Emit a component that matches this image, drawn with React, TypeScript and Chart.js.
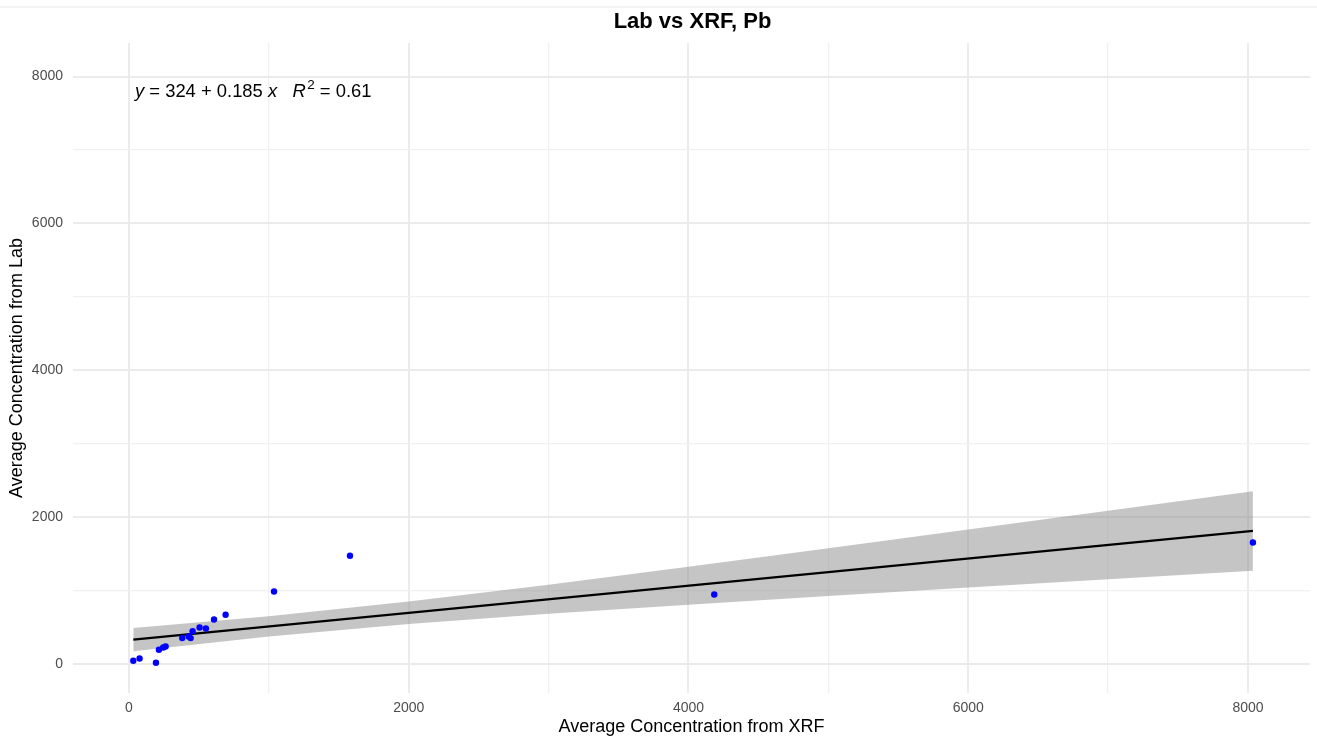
import React, { useEffect, useRef } from "react";
import { Chart, registerables } from "chart.js";

Chart.register(...registerables);

const xrfValues = [31, 76, 193, 214, 245, 262, 381, 427, 441, 455, 505, 550, 608, 691, 1037, 1580, 4184, 8035];
const labValues = [41, 72, 14, 191, 222, 236, 350, 372, 350, 445, 495, 481, 604, 668, 985, 1471, 944, 1653];

// Regression fit shown in the annotation
const fitIntercept = 324;
const fitSlope = 0.185;
const r2 = 0.61;

// Confidence band
const bandX = [31, 1000, 2000, 3000, 4000, 5000, 6000, 7000, 8035];
const bandLower = [171, 372, 542, 681, 806, 925, 1040, 1153, 1269];
const bandUpper = [489, 646, 847, 1077, 1322, 1573, 1828, 2085, 2351];

// Grid / tick values
const gridValues = [0, 1000, 2000, 3000, 4000, 5000, 6000, 7000, 8000];
const labeledTicks = [0, 2000, 4000, 6000, 8000];

const titleText = "Lab vs XRF, Pb";
const xTitle = "Average Concentration from XRF";
const yTitle = "Average Concentration from Lab";

const FONT = "'Liberation Sans', Arial, sans-serif";

export default function App() {
  const ref = useRef<HTMLCanvasElement | null>(null);

  useEffect(() => {
    if (!ref.current) return;
    const xMin = Math.min(...xrfValues);
    const xMax = Math.max(...xrfValues);

    const overlay = {
      id: "overlay",
      afterDraw(chart: any) {
        const ctx = chart.ctx;
        const ca = chart.chartArea;
        ctx.save();
        ctx.fillStyle = "#F3F3F3";
        ctx.fillRect(0, 6, chart.width, 2);
        ctx.fillStyle = "#000";
        ctx.font = `bold 22px ${FONT}`;
        ctx.textAlign = "center";
        ctx.textBaseline = "middle";
        ctx.fillText(titleText, (ca.left + ca.right) / 2 + 1, 22);
        ctx.textAlign = "left";
        ctx.textBaseline = "alphabetic";
        let x = ca.left + 62;
        const y = ca.top + 54;
        const parts: [string, boolean, boolean, number][] = [
          ["y", true, false, 0],
          [" = " + fitIntercept + " + " + fitSlope + " ", false, false, 0],
          ["x", true, false, 0],
          ["   ", false, false, 0],
          ["R", true, false, 1.5],
          ["2", false, true, 0],
          [" = " + r2.toFixed(2), false, false, 0],
        ];
        for (const [t, ital, sup, extra] of parts) {
          const size = sup ? 13.5 : 18.4;
          ctx.font = `${ital ? "italic " : ""}${size}px ${FONT}`;
          ctx.fillText(t, x, sup ? y - 8 : y);
          x += ctx.measureText(t).width + extra;
        }
        ctx.restore();
      },
    };

    const isMajor = (v: number) => labeledTicks.includes(v);
    const setTicks = (s: any) => {
      s.ticks = gridValues.map((v) => ({ value: v }));
    };

    const chart = new Chart(ref.current, {
      type: "scatter",
      data: {
        datasets: [
          {
            label: "points",
            data: xrfValues.map((v, i) => ({ x: v, y: labValues[i] })),
            backgroundColor: "#0000FF",
            borderColor: "#0000FF",
            pointRadius: 3.2,
            pointBorderWidth: 0,
            order: 0,
          } as any,
          {
            type: "line",
            label: "fit",
            data: [
              { x: xMin, y: fitIntercept + fitSlope * xMin },
              { x: xMax, y: fitIntercept + fitSlope * xMax },
            ],
            borderColor: "#000000",
            borderWidth: 2.3,
            pointRadius: 0,
            fill: false,
            order: 1,
          } as any,
          {
            type: "line",
            label: "upper",
            data: bandX.map((v, i) => ({ x: v, y: bandUpper[i] })),
            borderColor: "rgba(0,0,0,0)",
            borderWidth: 0,
            pointRadius: 0,
            backgroundColor: "rgba(140,140,140,0.5)",
            fill: "+1",
            order: 2,
          } as any,
          {
            type: "line",
            label: "lower",
            data: bandX.map((v, i) => ({ x: v, y: bandLower[i] })),
            borderColor: "rgba(0,0,0,0)",
            borderWidth: 0,
            pointRadius: 0,
            fill: false,
            order: 3,
          } as any,
        ],
      },
      options: {
        animation: false,
        responsive: false,
        devicePixelRatio: 1,
        layout: { padding: { top: 43, left: 0, right: 7, bottom: 0 } },
        plugins: {
          legend: { display: false },
          title: { display: false },
          tooltip: { enabled: false },
        },
        scales: {
          x: {
            type: "linear",
            min: -400,
            max: 8443,
            border: { display: false },
            afterBuildTicks: setTicks,
            afterFit: (s: any) => {
              s.height = 45;
            },
            grid: {
              drawTicks: false,
              color: (c: any) => (isMajor(c.tick?.value) ? "#EBEBEB" : "#F0F0F0"),
              lineWidth: (c: any) => (isMajor(c.tick?.value) ? 2 : 1.3),
            },
            ticks: {
              padding: 7,
              maxRotation: 0,
              autoSkip: false,
              color: "#4D4D4D",
              font: { family: FONT, size: 14 },
              callback: (v: any) => (isMajor(Number(v)) ? String(v) : ""),
            },
            title: {
              display: true,
              text: xTitle,
              color: "#000",
              font: { family: FONT, size: 18 },
              padding: { top: 0, bottom: 0 },
            },
          },
          y: {
            type: "linear",
            min: -398,
            max: 8458,
            border: { display: false },
            afterBuildTicks: setTicks,
            afterFit: (s: any) => {
              s.width = 73;
            },
            grid: {
              drawTicks: false,
              color: (c: any) => (isMajor(c.tick?.value) ? "#EBEBEB" : "#F0F0F0"),
              lineWidth: (c: any) => (isMajor(c.tick?.value) ? 2 : 1.3),
            },
            ticks: {
              padding: 10,
              autoSkip: false,
              color: "#4D4D4D",
              font: { family: FONT, size: 14 },
              callback: (v: any) => (isMajor(Number(v)) ? String(v) : ""),
            },
            title: {
              display: true,
              text: yTitle,
              color: "#000",
              font: { family: FONT, size: 18 },
              padding: { top: 6, bottom: 0 },
            },
          },
        },
      } as any,
      plugins: [overlay],
    });
    return () => chart.destroy();
  }, []);

  return (
    <div style={{ position: "fixed", left: 0, top: 0, width: 1317, height: 738, background: "#fff" }}>
      <canvas ref={ref} width={1317} height={738} style={{ display: "block", width: 1317, height: 738 }} />
    </div>
  );
}
